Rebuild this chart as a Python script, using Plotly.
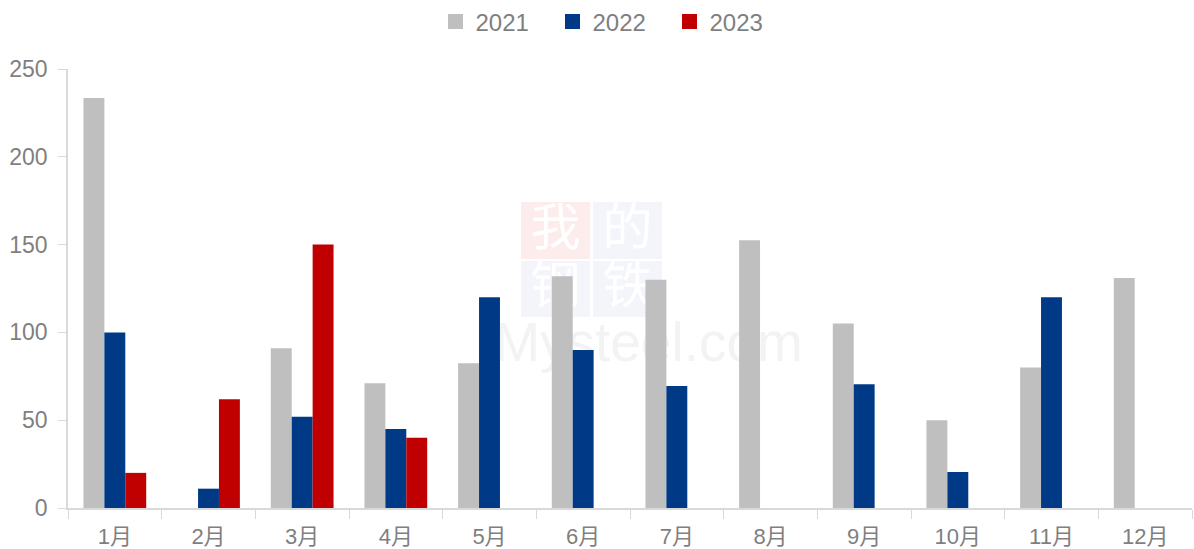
import plotly.graph_objects as go

months = ["1月", "2月", "3月", "4月", "5月", "6月", "7月", "8月", "9月", "10月", "11月", "12月"]
v2021 = [233.5, None, 91, 71, 82.5, 132, 130, 152.5, 105, 50, 80, 131]
v2022 = [100, 11, 52, 45, 120, 90, 69.5, None, 70.5, 20.5, 120, None]
v2023 = [20, 62, 150, 40, None, None, None, None, None, None, None, None]

names = ["2021", "2022", "2023"]
colors = ["#BFBFBF", "#003A87", "#C00000"]

W, H = 1194, 549
ML, MR, MT, MB = 68, 2, 69, 41
PW, PH = W - ML - MR, H - MT - MB

def px(x):
    return (x - ML) / PW

def py(y):
    return (H - MB - y) / PH

fig = go.Figure()
for name, vals, col in zip(names, [v2021, v2022, v2023], colors):
    fig.add_trace(go.Bar(x=months, y=vals, name=name, legendgroup=name, showlegend=False,
                         marker=dict(color=col, line=dict(width=0))))
for name, col in zip(names, colors):
    fig.add_trace(go.Scatter(x=[None], y=[None], mode="markers", name=name, legendgroup=name,
                             marker=dict(symbol="square", size=15, color=col)))

font_family = "Liberation Sans, Noto Sans CJK SC, sans-serif"

fig.update_layout(
    width=W, height=H,
    margin=dict(l=ML, r=MR, t=MT, b=MB, autoexpand=False),
    paper_bgcolor="white", plot_bgcolor="white",
    barmode="group", bargap=0.33, bargroupgap=0,
    font=dict(family=font_family, color="#7F7F7F", size=20),
    legend=dict(orientation="h", x=px(611), xanchor="center", y=py(22), yanchor="middle",
                font=dict(size=24, color="#7F7F7F"), itemwidth=30, traceorder="normal",
                itemsizing="trace", entrywidth=72, entrywidthmode="pixels"),
    showlegend=True,
    hovermode=False,
)

fig.update_xaxes(
    type="category", showline=True, linecolor="#D9D9D9", linewidth=1.5,
    ticks="outside", tickson="boundaries", ticklen=9, tickcolor="#D9D9D9",
    showgrid=False, tickfont=dict(size=22, color="#7F7F7F"), automargin=False,
    ticklabelstandoff=8,
)
fig.update_yaxes(
    range=[0, 250], dtick=50, showline=True, linecolor="#D9D9D9", linewidth=1.5,
    ticks="outside", ticklen=8, tickcolor="#D9D9D9", showgrid=False, zeroline=False,
    tickfont=dict(size=23, color="#7F7F7F"), ticklabelstandoff=6, automargin=False,
)

# Watermark (drawn beneath the bars)
tiles = [("我", 521, 590, 202, 259, "#FCECEC"), ("的", 593, 662, 202, 259, "#F3F5FB"),
         ("钢", 521, 590, 261, 317, "#F3F5FB"), ("铁", 593, 662, 261, 317, "#F3F5FB")]
for ch, x0, x1, y0, y1, bg in tiles:
    fig.add_shape(type="rect", xref="paper", yref="paper", x0=px(x0), x1=px(x1), y0=py(y1), y1=py(y0),
                  fillcolor=bg, line=dict(width=0), layer="below",
                  label=dict(text=ch, textposition="middle center",
                             font=dict(size=50, color="#FFFFFF", family="Noto Sans CJK SC")))
fig.add_shape(type="rect", xref="paper", yref="paper", x0=px(495), x1=px(802), y0=py(375), y1=py(298),
              fillcolor="rgba(0,0,0,0)", line=dict(width=0), layer="below",
              label=dict(text="Mysteel.com", textposition="middle center",
                         font=dict(size=55, color="#F3F3F3", family="Liberation Sans")))

fig.write_html("out.html", config={"displayModeBar": False},
               post_script="document.body.style.margin='0';")
